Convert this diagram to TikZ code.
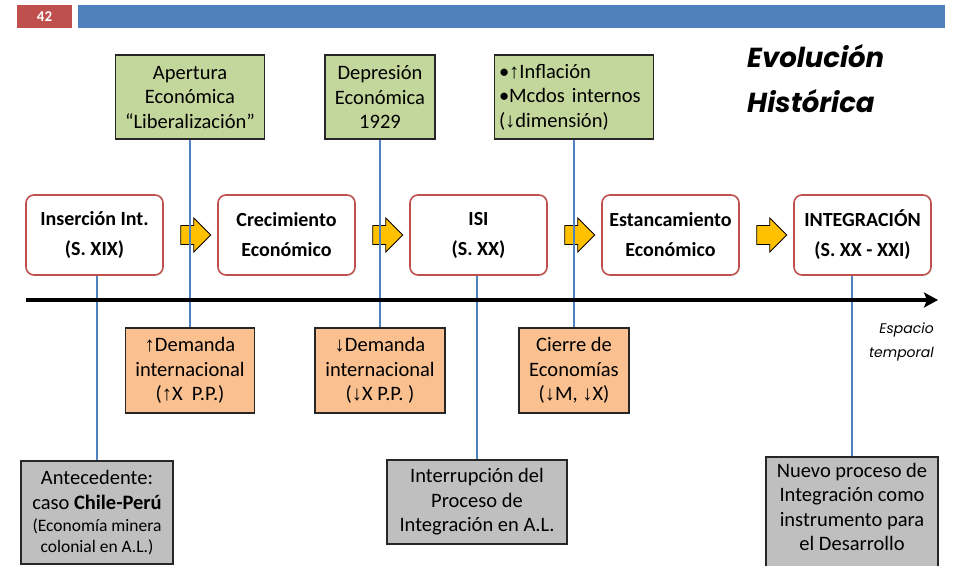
\documentclass[tikz,border=0pt]{standalone}
\usepackage{fontspec}
\setmainfont{Carlito}
\newfontfamily\titlefont{Poppins}
\newfontfamily\arrowfont{Liberation Sans}
\usetikzlibrary{arrows.meta,shapes.arrows}
\definecolor{rojohdr}{HTML}{C0504D}
\definecolor{azulhdr}{HTML}{4F81BD}
\definecolor{bordeetapa}{HTML}{C0504D}
\definecolor{verdecausa}{HTML}{C3D69B}
\definecolor{naranjaefecto}{HTML}{FAC090}
\definecolor{grisnota}{HTML}{BFBFBF}
\definecolor{amarillo}{HTML}{FFC000}
\newcommand\flup{{\arrowfont ↑}}
\newcommand\fldn{{\arrowfont ↓}}
\begin{document}
\begin{tikzpicture}[x=1pt,y=-1pt,
    etapa/.style={draw=bordeetapa,line width=1.6pt,rounded corners=8pt,fill=white,minimum width=137,minimum height=80,align=center,font=\fontsize{20}{30}\selectfont\bfseries},
    causa/.style={draw=black!85,line width=1.2pt,fill=verdecausa,minimum height=84,inner sep=0,align=center,font=\fontsize{20.5}{24.5}\selectfont},
    efecto/.style={draw=black!85,line width=1.2pt,fill=naranjaefecto,minimum height=85,inner sep=0,align=center,font=\fontsize{20.5}{24.5}\selectfont},
    nota/.style={draw=black!85,line width=1.2pt,fill=grisnota,inner sep=0,align=center,font=\fontsize{20.5}{24.5}\selectfont},
    flecha/.style={single arrow,draw=black,line width=0.8pt,fill=amarillo,minimum height=30,minimum width=34,text height=9pt,text depth=8pt,inner sep=0},
    conector/.style={draw=azulhdr,line width=1.5pt}]
    \useasboundingbox (0,0) rectangle (955,565);

    \node[fill=rojohdr,minimum width=55,minimum height=23,inner sep=0,text=white,font=\fontsize{15}{15}\selectfont\bfseries] at (44.5,16.5) (pagina) {42};
    \node[fill=azulhdr,minimum width=867,minimum height=23,inner sep=0] at (511.5,16.5) (barra) {};

    \node[anchor=base west,inner sep=0,font=\titlefont\fontsize{27.5}{27.5}\selectfont\bfseries\itshape] at (747,67) (titulo1) {Evolución};
    \node[anchor=base west,inner sep=0,font=\titlefont\fontsize{27.5}{27.5}\selectfont\bfseries\itshape] at (747,112) (titulo2) {Histórica};

    \node[causa,minimum width=149] at (190,97) (apertura) {Apertura\\Económica\\“Liberalización”};
    \node[causa,minimum width=110] at (380,97) (depresion) {Depresión\\Económica\\1929};
    \node[causa,minimum width=159,text width=150,align=left] at (574,97) (inflacion) {•\flup Inflación\\•Mcdos internos\\(\fldn dimensión)};

    \node[etapa] at (94.5,235) (insercion) {Inserción Int.\\(S. XIX)};
    \node[etapa] at (286.5,235) (crecimiento) {Crecimiento\\Económico};
    \node[etapa] at (478.5,235) (isi) {ISI\\(S. XX)};
    \node[etapa] at (670.5,235) (estancamiento) {Estancamiento\\Económico};
    \node[etapa] at (862.5,235) (integracion) {INTEGRACIÓN\\(S. XX - XXI)};

    \node[flecha] at (191,235) (f1) {};
    \node[flecha] at (383,235) (f2) {};
    \node[flecha] at (575,235) (f3) {};
    \node[flecha] at (767,235) (f4) {};

    \node[efecto,minimum width=129] at (190,370.5) (demandaalta) {\flup Demanda\\internacional\\(\flup X~~P.P.)};
    \node[efecto,minimum width=130] at (380,370.5) (demandabaja) {\fldn Demanda\\internacional\\(\fldn X P.P. )};
    \node[efecto,minimum width=110] at (574,370.5) (cierre) {Cierre de\\Economías\\(\fldn M, \fldn X)};

    \node[nota,minimum width=152,minimum height=103] at (97,512.5) (antecedente) {Antecedente:\\caso \textbf{Chile-Perú}\\[-2pt]{\fontsize{17.5}{20}\selectfont(Economía minera}\\[-4pt]{\fontsize{17.5}{20}\selectfont colonial en A.L.)}};
    \node[nota,minimum width=180,minimum height=84] at (477,502) (interrupcion) {Interrupción del\\Proceso de\\Integración en A.L.};
    \node[nota,minimum width=172,minimum height=116,text depth=16pt] at (852,515) (nuevo) {Nuevo proceso de\\Integración como\\instrumento para\\el Desarrollo};

    \path[conector]
        (apertura) edge (demandaalta)
        (depresion) edge (demandabaja)
        (inflacion) edge (cierre)
        (antecedente) edge (antecedente |- insercion.south)
        (interrupcion) edge (interrupcion |- isi.south)
        (nuevo) edge (nuevo |- integracion.south)
        ;

    \coordinate (inicio) at (26,300);
    \coordinate (fin) at (938,300);
    \draw[line width=3.5pt,-{Stealth[length=14pt,width=15pt,inset=3pt]}] (inicio) -- (fin);

    \node[anchor=base east,inner sep=0,font=\titlefont\fontsize{14}{14}\selectfont\itshape] at (934,333) (espacio1) {Espacio};
    \node[anchor=base east,inner sep=0,font=\titlefont\fontsize{14}{14}\selectfont\itshape] at (934,357) (espacio2) {temporal};
\end{tikzpicture}
\end{document}
